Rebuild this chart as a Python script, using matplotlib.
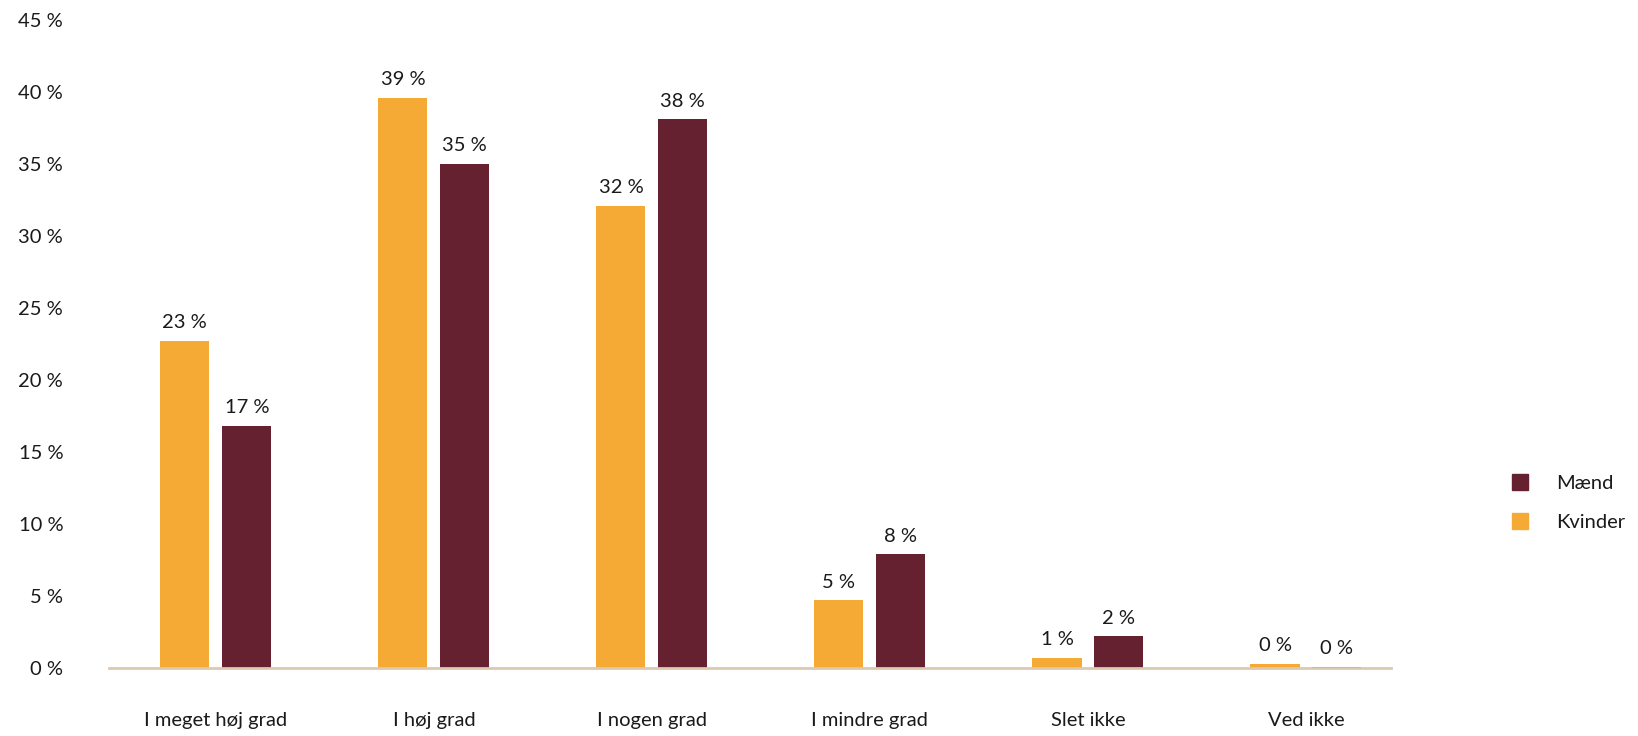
import matplotlib
matplotlib.use("Agg")
import matplotlib.pyplot as plt
from matplotlib.lines import Line2D
import numpy as np

categories = ["I meget høj grad", "I høj grad", "I nogen grad", "I mindre grad", "Slet ikke", "Ved ikke"]
kvinder = [22.7, 39.6, 32.1, 4.7, 0.7, 0.3]
maend = [16.8, 35.0, 38.1, 7.9, 2.2, 0.1]
kvinder_labels = ["23 %", "39 %", "32 %", "5 %", "1 %", "0 %"]
maend_labels = ["17 %", "35 %", "38 %", "8 %", "2 %", "0 %"]
yticks = [0, 5, 10, 15, 20, 25, 30, 35, 40, 45]

C_K = "#F4AA35"
C_M = "#662130"
AXC = "#DCC9B0"
TXT = "#1a1a1a"

plt.rcParams['font.family'] = ['Lato', 'DejaVu Sans']
FS = 14.5

W, H = 1638, 736
fig = plt.figure(figsize=(W/100, H/100), dpi=100)
left, right, bottom, top = 109, 1391, 668, 20
ax = fig.add_axes([left/W, 1-bottom/H, (right-left)/W, (bottom-top)/H])

x = np.arange(len(categories))
bw = 0.225
off = 0.142
bk = ax.bar(x - off, kvinder, bw, color=C_K, zorder=2)
bm = ax.bar(x + off, maend, bw, color=C_M, zorder=2)

for bars, labs in ((bk, kvinder_labels), (bm, maend_labels)):
    for b, l in zip(bars, labs):
        ax.annotate(l, (b.get_x() + b.get_width()/2, b.get_height()),
                    xytext=(0, 7), textcoords="offset points",
                    ha="center", va="bottom", fontsize=FS, color=TXT)

ax.set_xlim(-0.49, 5.39)
ax.set_ylim(0, 45)
ax.set_yticks(yticks)
ax.set_yticklabels([f"{v} %" for v in yticks], fontsize=FS, color=TXT)
ax.set_xticks(x)
ax.set_xticklabels(categories, fontsize=FS, color=TXT)
ax.tick_params(axis="y", length=0, pad=33)
ax.tick_params(axis="x", length=0, pad=32)
for s in ("top", "right", "left"):
    ax.spines[s].set_visible(False)
ax.spines["bottom"].set_color(AXC)
ax.spines["bottom"].set_linewidth(2)
ax.spines["bottom"].set_zorder(3)

handles = [Line2D([], [], marker="s", linestyle="none", markersize=12, color=C_M, label="Mænd"),
           Line2D([], [], marker="s", linestyle="none", markersize=12, color=C_K, label="Kvinder")]
fig.legend(handles=handles, loc="center left", bbox_to_anchor=(1500/W, 1-503/H),
           frameon=False, fontsize=FS, labelspacing=1.1, handletextpad=0.8,
           borderaxespad=0, borderpad=0, labelcolor=TXT)

fig.savefig("out.png", dpi=100)
